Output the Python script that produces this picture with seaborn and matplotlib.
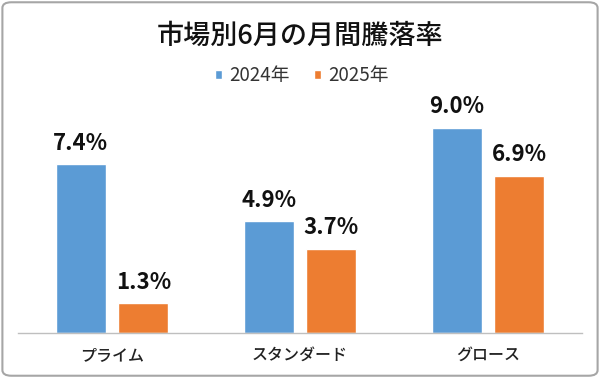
import matplotlib
matplotlib.use("Agg")
import matplotlib.pyplot as plt
from matplotlib.patches import FancyBboxPatch
import seaborn as sns
import pandas as pd

# ========================================================
# Data
# ========================================================
markets = ["プライム", "スタンダード", "グロース"]
years = ["2024年", "2025年"]
rate_2024 = [7.4, 4.9, 9.0]
rate_2025 = [1.3, 3.7, 6.9]
colors = ["#5B9BD5", "#ED7D31"]

df = pd.DataFrame({
    "market": markets * 2,
    "year": [years[0]] * 3 + [years[1]] * 3,
    "rate": rate_2024 + rate_2025,
})

sns.set_theme(style="white")
plt.rcParams["font.family"] = ["Noto Sans CJK JP", "DejaVu Sans"]

# ========================================================
# Plot
# ========================================================
fig = plt.figure(figsize=(6, 3.78), dpi=100)
ax = fig.add_axes([0.03, 0.119, 0.94, 0.603])

sns.barplot(data=df, x="market", y="rate", hue="year", order=markets,
            hue_order=years, palette=colors, width=0.667, gap=0.2,
            saturation=1, ax=ax)

ax.set_xlim(-0.5, 2.5)
ax.set_ylim(0, 10)
ax.set_xlabel("")
ax.set_ylabel("")
ax.set_yticks([])
for side in ["top", "right", "left"]:
    ax.spines[side].set_visible(False)
ax.spines["bottom"].set_color("#BFBFBF")
ax.spines["bottom"].set_linewidth(1)
ax.tick_params(axis="x", length=0, pad=10)
for lbl in ax.get_xticklabels():
    lbl.set_fontsize(11.5)
    lbl.set_fontweight("medium")
    lbl.set_color("#222222")

for cont in ax.containers:
    ax.bar_label(cont, labels=[f"{v:.1f}%" for v in cont.datavalues],
                 padding=7, fontsize=16, fontweight="bold", color="#111111")

ax.legend(loc="center", bbox_to_anchor=(0.503, 0.80), bbox_transform=fig.transFigure,
          ncol=2, frameon=False, handlelength=0.35, handleheight=0.35,
          handletextpad=0.4, columnspacing=1.3, fontsize=13.5,
          labelcolor="#333333")

fig.text(0.5, 0.905, "市場別6月の月間騰落率", ha="center", va="center",
         fontsize=19.5, fontweight="medium", color="#111111")

# rounded frame around the whole picture
frame = FancyBboxPatch((0.004, 0.006), 0.992, 0.988, boxstyle="round,pad=0,rounding_size=0.015",
                       transform=fig.transFigure, facecolor="none",
                       edgecolor="#A6A6A6", linewidth=1.5)
fig.patches.append(frame)

fig.savefig("out.png", dpi=100)
